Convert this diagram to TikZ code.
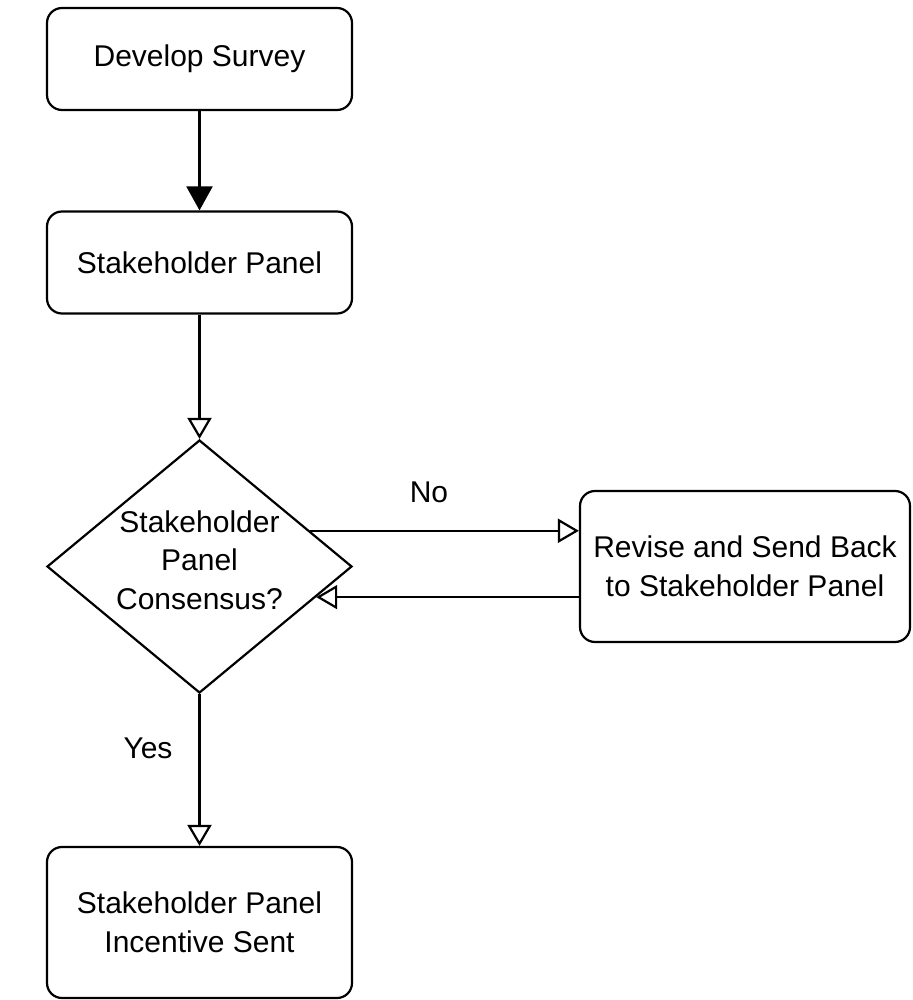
\documentclass[tikz,border=0pt]{standalone}
\usepackage{fontspec}
\setmainfont{Liberation Sans}
\usetikzlibrary{shapes.geometric,arrows.meta,calc}
% centred text that does not widen the shape around it
\newcommand{\fixedtext}[1]{\makebox[0pt]{\raisebox{-6pt}{\smash{\begin{tabular}{@{}c@{}}#1\end{tabular}}}}}
\begin{document}
\begin{tikzpicture}[x=1pt,y=-1pt,
  line width=2.2pt,
  every node/.style={font=\fontsize{30}{38.5}\selectfont},
  procbox/.style={draw, rounded corners=15pt, align=center, inner sep=0pt,
    minimum width=305pt, minimum height=#1},
  procbox/.default=102pt,
  decision/.style={draw, diamond, inner sep=0pt,
    minimum width=305pt, minimum height=253pt},
  flow/.style={-{Triangle[open, length=21pt, width=24pt, line width=2.2pt]}},
  solidflow/.style={-{Triangle[length=24pt, width=26pt]}},
  lbl/.style={inner sep=0pt}
]
\useasboundingbox (0,0) rectangle (912,1000);

\node[procbox] (survey) at (199.5,59) {Develop Survey};
\node[procbox] (panel) at (199.5,262.5) {Stakeholder Panel};
\node[decision] (consensus) at (199.5,566.5) {\fixedtext{Stakeholder\\Panel\\Consensus?}};
\node[procbox=151pt, minimum width=330pt] (revise) at (745,566.5) {Revise and Send Back\\to Stakeholder Panel};
\node[procbox=151pt] (incentive) at (199.5,922.5) {Stakeholder Panel\\Incentive Sent};

\coordinate (noStart) at ($(consensus.north)!0.72!(consensus.east)$);
\coordinate (backEnd) at ($(consensus.east)!0.24!(consensus.south)$);

\draw[solidflow] (survey) -- (panel);
\draw[flow] (panel) -- (consensus);
\draw[flow] (noStart) -- (revise.west |- noStart);
\draw[flow] (revise.west |- backEnd) -- (backEnd);
\draw[flow] (consensus) -- (incentive);

\node[lbl] (nolbl) at (429,492) {No};
\node[lbl] (yeslbl) at (148,748) {Yes};
\end{tikzpicture}
\end{document}
